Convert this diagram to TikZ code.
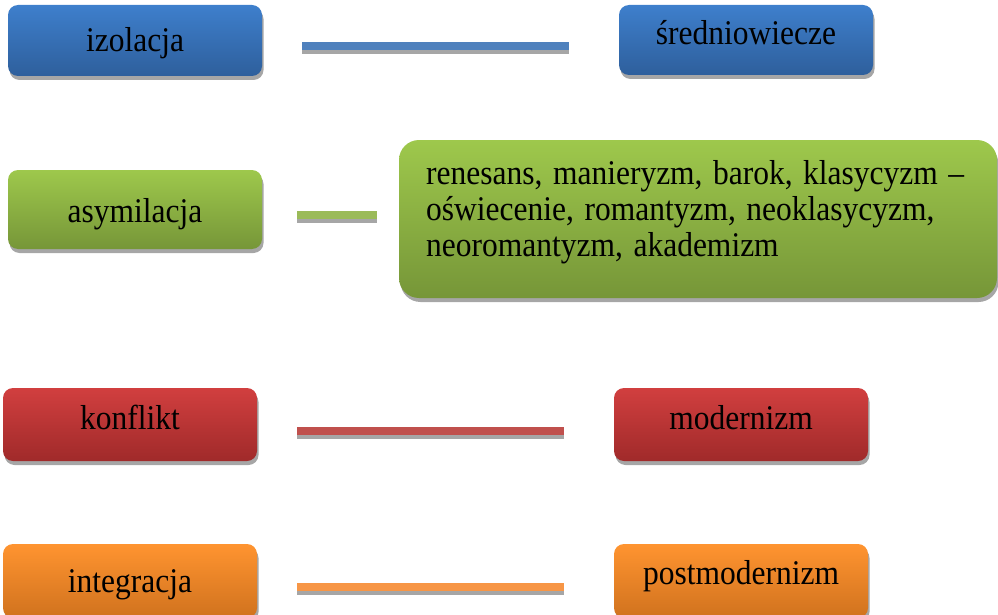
\documentclass[tikz,border=0pt]{standalone}
\usepackage{graphicx}
\usepackage{fontspec}
\setmainfont{Liberation Serif}
\usetikzlibrary{shadows}
\definecolor{blueT}{RGB}{62,127,204}
\definecolor{blueB}{RGB}{46,95,156}
\definecolor{greenT}{RGB}{158,200,76}
\definecolor{greenB}{RGB}{118,150,56}
\definecolor{redT}{RGB}{209,63,63}
\definecolor{redB}{RGB}{160,42,42}
\definecolor{orangeT}{RGB}{255,148,48}
\definecolor{orangeB}{RGB}{208,114,30}
\definecolor{lineblue}{HTML}{4F81BD}
\definecolor{linegreen}{HTML}{9BBB59}
\definecolor{linered}{HTML}{C0504D}
\definecolor{lineorange}{HTML}{F79646}
\definecolor{shadowgray}{HTML}{A6A6A6}
\newcommand{\tallt}[1]{\scalebox{1}[1.1]{#1}}
\begin{document}
\begin{tikzpicture}[x=1pt,y=-1pt,
  box/.style={rounded corners=10pt, inner sep=0pt, text depth=0pt,
    minimum width=254pt, minimum height=72pt,
    font=\fontsize{31.5}{36}\selectfont,
    drop shadow={shadow xshift=1.5pt, shadow yshift=-4pt, fill=shadowgray, opacity=1}},
  bl/.style={text height=#1},
  bluebox/.style={box, top color=blueT, bottom color=blueB},
  greenbox/.style={box, top color=greenT, bottom color=greenB},
  redbox/.style={box, top color=redT, bottom color=redB},
  orangebox/.style={box, top color=orangeT, bottom color=orangeB},
  conn/.style={line width=8pt},
  connshadow/.style={line width=8pt, draw=shadowgray},
  textblock/.style={inner sep=0pt, font=\fontsize{31.5}{36}\selectfont, text width=570pt, align=left}
]
\useasboundingbox (0,0) rectangle (998,615);

% row 1
\node[bluebox, bl=23pt, minimum height=71pt] (izo) at (135,40.5) {\tallt{izolacja}};
\node[bluebox, bl=10pt, minimum height=70pt] (sre) at (746,40) {\tallt{średniowiecze}};
% row 2
\node[greenbox, bl=25pt, minimum height=79pt] (asy) at (135,209.5) {\tallt{asymilacja}};
\node[greenbox, rounded corners=20pt, minimum width=598pt, minimum height=158pt] (ren) at (698,219) {};
\node[textblock, anchor=base west] (rentext) at (426,184) {\tallt{renesans, manieryzm, barok, klasycyzm –}\\\tallt{oświecenie, romantyzm, neoklasycyzm,}\\\tallt{neoromantyzm, akademizm}};
% row 3
\node[redbox, bl=9pt, minimum height=73pt] (kon) at (130,424.5) {\tallt{konflikt}};
\node[redbox, bl=9pt, minimum height=73pt] (mod) at (741,424.5) {\tallt{modernizm}};
% row 4
\node[orangebox, bl=22pt, minimum height=74pt] (int) at (130,581) {\tallt{integracja}};
\node[orangebox, bl=6pt, minimum height=74pt] (post) at (741,581) {\tallt{postmodernizm}};

% connector end points
\coordinate (c1a) at (302,46);  \coordinate (c1b) at (569,46);
\coordinate (c2a) at (297,215); \coordinate (c2b) at (377,215);
\coordinate (c3a) at (297,431); \coordinate (c3b) at (564,431);
\coordinate (c4a) at (297,587); \coordinate (c4b) at (564,587);

\foreach \a/\b/\c in {c1a/c1b/lineblue, c2a/c2b/linegreen, c3a/c3b/linered, c4a/c4b/lineorange}{
  \draw[connshadow] ([yshift=-4pt]\a) -- ([yshift=-4pt]\b);
  \draw[conn, draw=\c] (\a) -- (\b);
}
\end{tikzpicture}
\end{document}
